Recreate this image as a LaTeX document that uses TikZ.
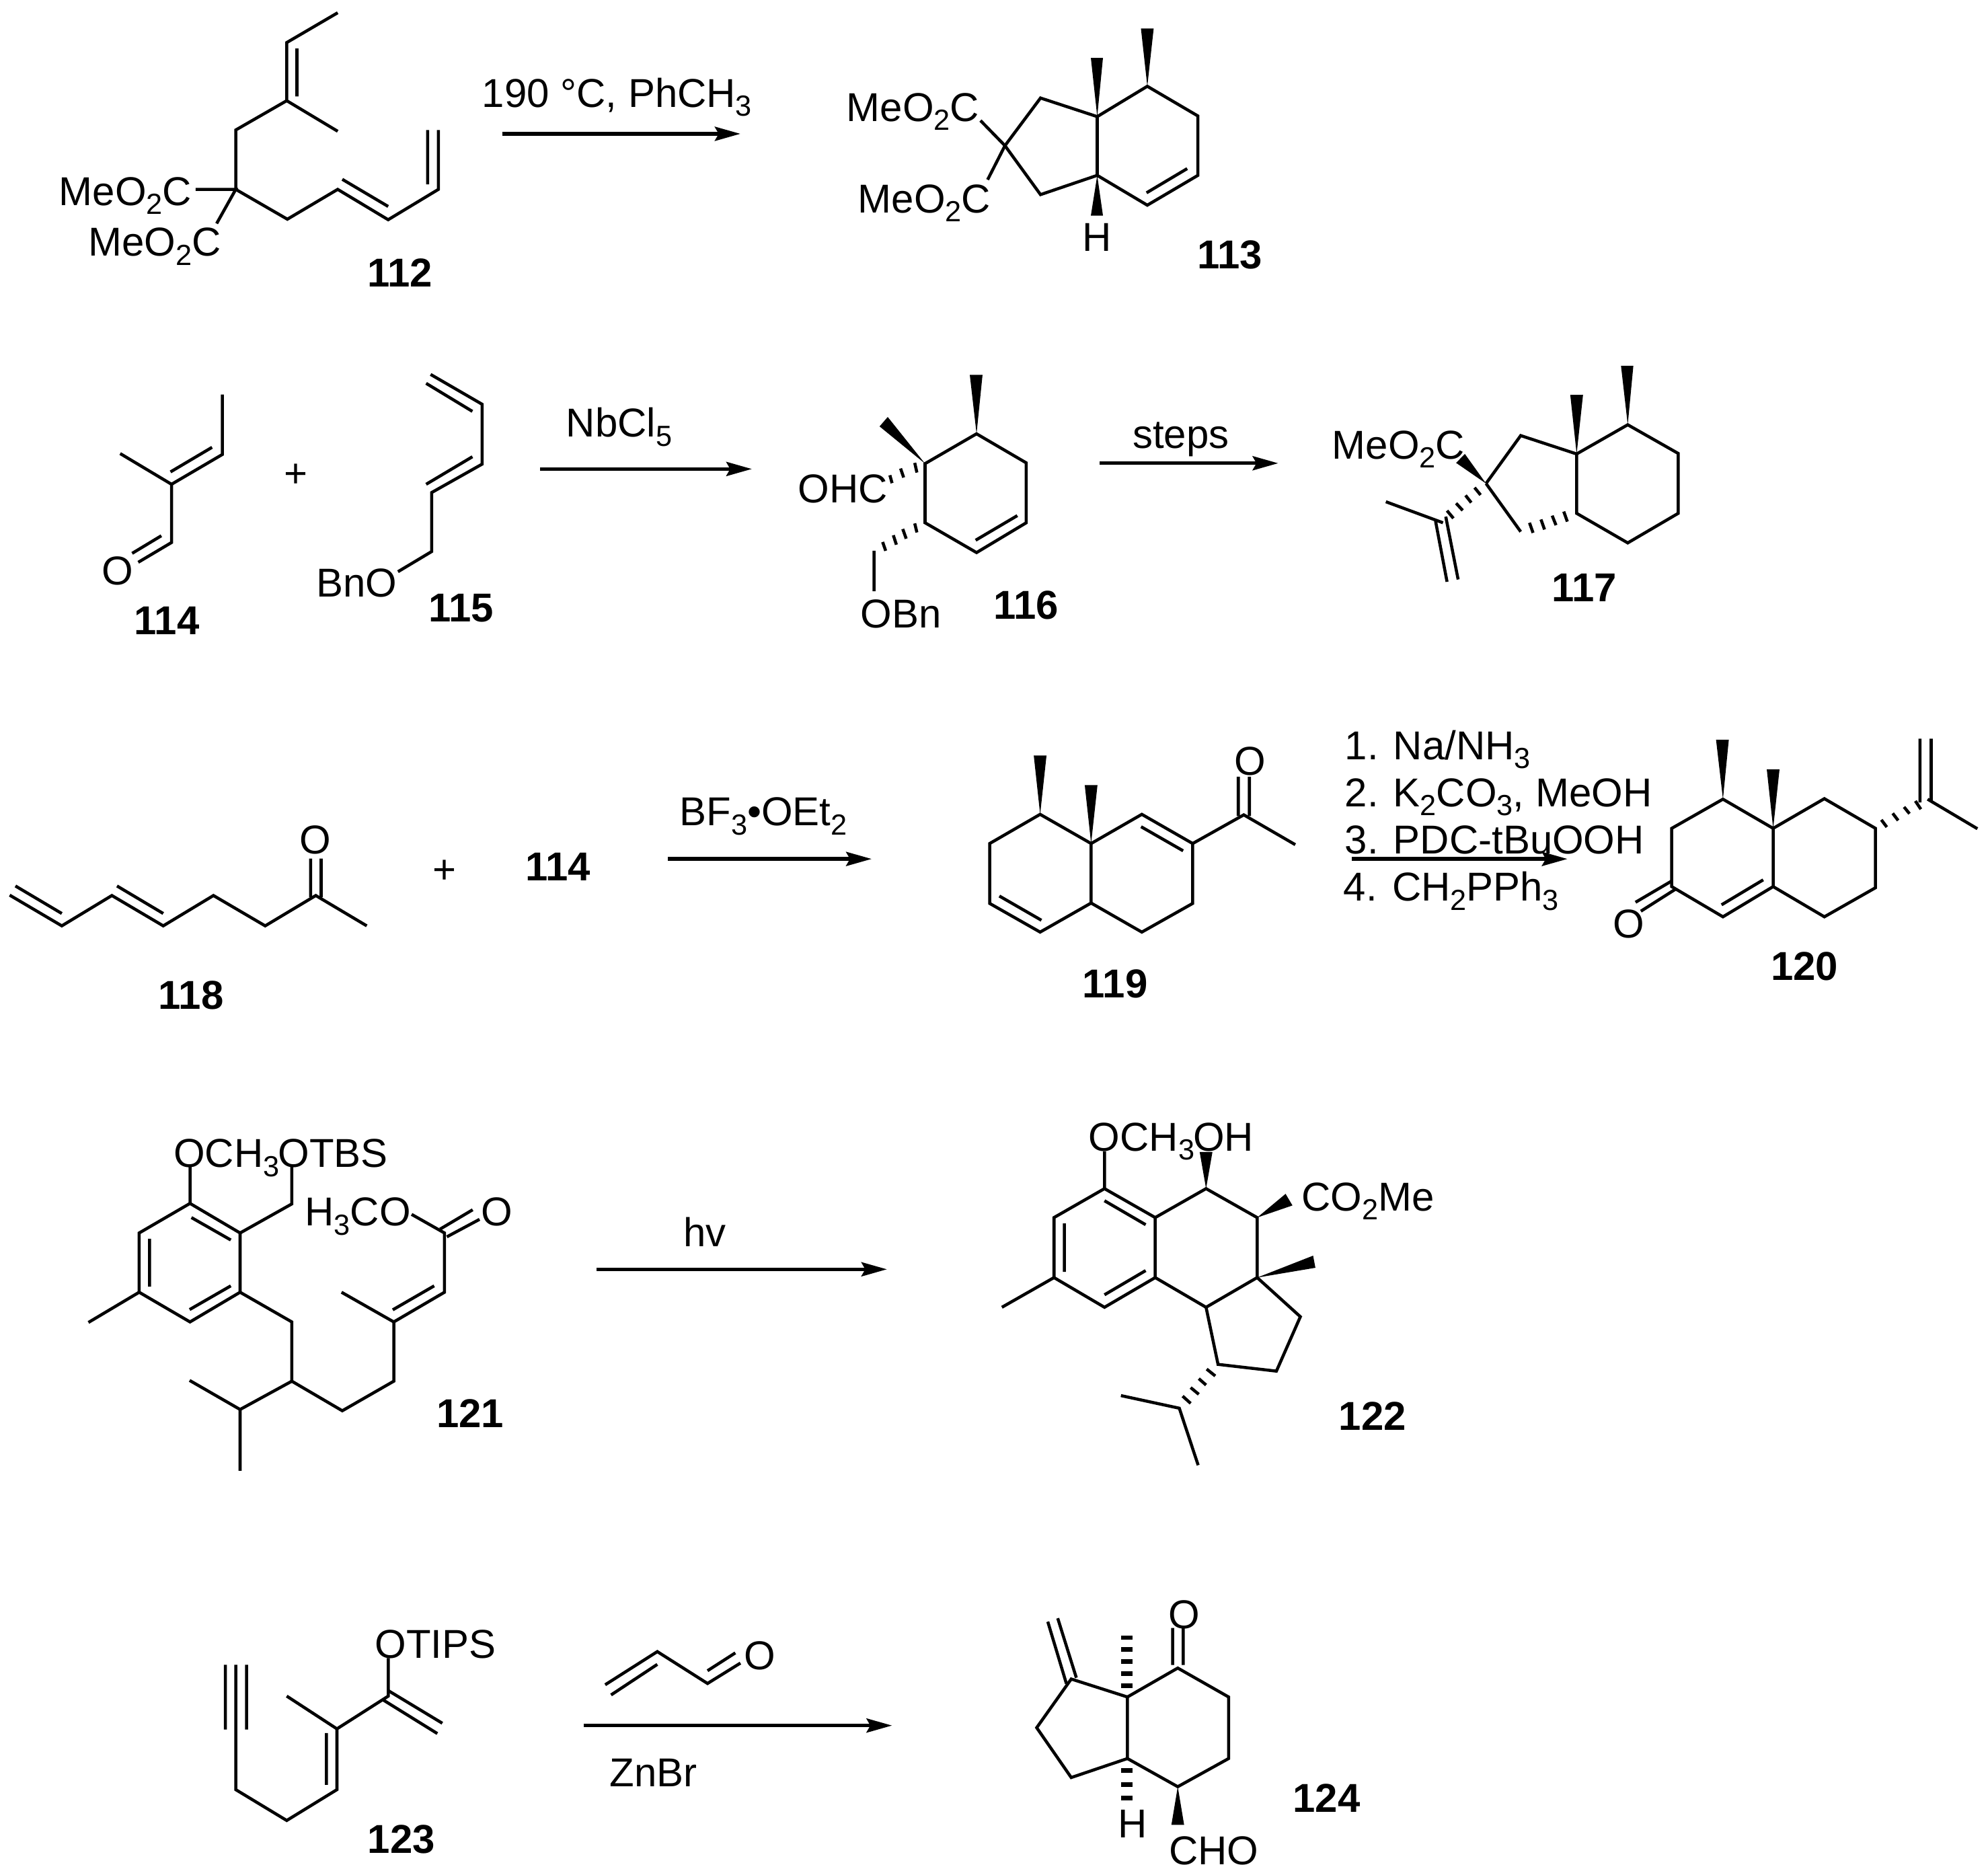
\documentclass[tikz,border=0pt]{standalone}
\usepackage{fontspec}
\setmainfont{Liberation Sans}
\usetikzlibrary{arrows.meta}
\newcommand\sbs[1]{\raisebox{-4pt}{\fontsize{13}{13}\selectfont #1}}
\tikzset{
  bond/.style={line width=1.36pt,line join=miter,line cap=butt,black},
  hashb/.style={line width=1.36pt,line cap=butt,black},
  barb/.style={line width=2pt,line cap=butt,black},
  wedgeb/.style={fill=black,draw=none},
  rxn/.style={line width=1.6pt,black,-{Stealth[length=0.4cm,width=0.22cm,inset=0.06cm]}},
  txt/.style={anchor=base west,inner sep=0pt,font=\fontsize{18}{18}\selectfont},
  ctxt/.style={anchor=base,inner sep=0pt,font=\fontsize{18}{18}\selectfont},
  lbl/.style={anchor=base,inner sep=0pt,font=\fontsize{18}{18}\selectfont\bfseries}
}
\begin{document}
\begin{tikzpicture}[x=0.02cm,y=-0.02cm]
\useasboundingbox (0,0) rectangle (1560,1466.5);
% ---------- 112
\draw[bond] (265,10)--(225,33.4)--(225,79)--(265,103) (225,79)--(185,102)--(185,148.6)--(225.5,172)--(265,148.6)--(304.6,172.4)--(344,148.6)--(344,102);
\draw[bond] (233,38)--(233,75.6) (335.6,102)--(335.6,144.6) (268.6,140.7)--(304.6,162) (153.5,148.6)--(185,148.6)--(170,175.4);
\node[txt] (t112a) at (46,161) {MeO\sbs{2}C};
\node[txt] (t112b) at (69,201) {MeO\sbs{2}C};
\node[lbl] (n112) at (314,225) {112};
% reaction 1
\node[txt] (r1t) at (378,84) {190 °C, PhCH\sbs{3}};
\coordinate (r1s) at (394,105); \coordinate (r1e) at (581,105);
\draw[rxn] (r1s)--(r1e);
% ---------- 113
\draw[bond] (788.6,114.3)--(816.5,76.9)--(861,91.5)--(861,137.6)--(816.5,152.7)--cycle;
\draw[bond] (861,91.5)--(900.3,67.7)--(940,91)--(940,137.6)--(900.3,161)--(861,137.6);
\draw[bond] (899.7,151.3)--(931.6,132.3) (769.4,94.6)--(788.6,114.3)--(775,141);
\fill[wedgeb] (861,91.5)--(856,45.4)--(865.5,45.4)--cycle;
\fill[wedgeb] (900.3,67.7)--(895.3,22.3)--(905.3,22.3)--cycle;
\fill[wedgeb] (861,137.6)--(856,169.2)--(865.5,169.2)--cycle;
\node[txt] (t113a) at (664,95) {MeO\sbs{2}C};
\node[txt] (t113b) at (673,167) {MeO\sbs{2}C};
\node[ctxt] (t113h) at (860.6,197) {H};
\node[lbl] (n113) at (965,211) {113};
% ---------- 114
\draw[bond] (174.5,309.6)--(174.5,356.6)--(134.6,380)--(94.3,355.9) (134.6,380)--(134.6,425.7)--(108.5,441.2);
\draw[bond] (166.4,351)--(133.8,370.3) (126.6,420.4)--(103.7,434.2);
\node[ctxt] (t114o) at (92.4,459) {O};
\node[lbl] (n114) at (131,498) {114};
\node[ctxt] (plus1) at (232.4,382.6) {+};
% ---------- 115
\draw[bond] (337.9,293.8)--(378.3,317.2)--(378.3,364.2)--(338.7,386.5)--(338.7,432.8)--(312.3,448.6);
\draw[bond] (334.4,300.8)--(370.7,322.8) (370.7,358.4)--(334.4,380);
\node[txt] (t115) at (248,468.5) {BnO};
\node[lbl] (n115) at (362,488) {115};
% reaction 2
\node[txt] (r2t) at (444,343) {NbCl\sbs{5}};
\coordinate (r2s) at (424,368); \coordinate (r2e) at (590,368);
\draw[rxn] (r2s)--(r2e);
% ---------- 116
\draw[bond] (725.9,363.8)--(766.3,340.4)--(805.3,363.2)--(805.3,410.2)--(766.3,433.6)--(725.9,410.2)--cycle;
\draw[bond] (765.6,423.9)--(798.3,404.6) (685.9,432.2)--(685.9,464);
\fill[wedgeb] (766.3,340.4)--(761,294.1)--(771,294.1)--cycle;
\fill[wedgeb] (725.9,363.8)--(696.6,327.2)--(690.2,334.6)--cycle;
\draw[hashb] (717.8,363.2)--(719.5,370.8) (706.7,367.6)--(709.1,374.7) (698.3,372.9)--(700,379.1);
\draw[hashb] (717.8,410.7)--(719.5,417.8) (708.4,415.1)--(711.1,422.7) (701,420)--(703.4,427.4) (692.6,425.3)--(695,432.2);
\node[txt] (t116a) at (626,394.5) {OHC};
\node[txt] (t116b) at (675,492.5) {OBn};
\node[lbl] (n116) at (805,486) {116};
% reaction 3
\node[txt] (r3t) at (888.5,351.5) {steps};
\coordinate (r3s) at (863,363.5); \coordinate (r3e) at (1003,363.5);
\draw[rxn] (r3s)--(r3e);
% ---------- 117
\draw[bond] (1237.2,356.2)--(1277.3,333.3)--(1316.9,355.8)--(1316.9,402.8)--(1277.3,426)--(1237.2,402.8)--cycle;
\draw[bond] (1166.1,379.4)--(1193.3,341.8)--(1237.2,356.2) (1166.1,379.4)--(1193.3,417.2);
\draw[bond] (1087.5,393.7)--(1132.3,410.2) (1126.5,409)--(1135.5,456.5) (1134.5,405.4)--(1144.2,454.7);
\fill[wedgeb] (1237.2,356.2)--(1232.2,309.9)--(1242.2,309.9)--cycle;
\fill[wedgeb] (1277.3,333.3)--(1272,287)--(1281.7,287)--cycle;
\fill[wedgeb] (1166.1,379.4)--(1149.5,356.2)--(1142.6,363.2)--cycle;
\draw[hashb] (1157.1,382.6)--(1161.8,388.4) (1150,388.7)--(1154.5,394.4) (1142.6,394.9)--(1147.8,400.5) (1135.5,400.7)--(1140.5,406.7);
\draw[hashb] (1227.1,401.4)--(1229.9,409.3) (1218,404.6)--(1221,412.1) (1209.2,407.6)--(1212,415.5) (1200.2,410.2)--(1203,418.1);
\node[txt] (t117) at (1045,360) {MeO\sbs{2}C};
\node[lbl] (n117) at (1243,472) {117};
% ---------- 118
\draw[bond] (7.6,702.4)--(48.5,726.5)--(87.8,702.7)--(128.1,726.5)--(167.5,702.7)--(208.1,726.5)--(247.8,702.7)--(287.8,726.5);
\draw[bond] (12.1,695.2)--(48.5,716.8) (91.8,695.2)--(128.1,716.8) (243.8,673.7)--(243.8,704) (252,673.7)--(252,704);
\node[ctxt] (t118o) at (247.5,670) {O};
\node[ctxt] (plus2) at (349,693) {+};
\node[lbl] (n114b) at (438,691) {114};
\node[lbl] (n118) at (150,792) {118};
% reaction 4
\node[txt] (r4t) at (533,648) {BF\sbs{3}•OEt\sbs{2}};
\coordinate (r4s) at (524,674); \coordinate (r4e) at (684,674);
\draw[rxn] (r4s)--(r4e);
% ---------- 119
\draw[bond] (816.2,639)--(776.6,661.9)--(776.6,708.9)--(816.2,731.4)--(856.2,708.6)--(856.2,661.9)--cycle;
\draw[bond] (856.2,661.9)--(896,639)--(935.9,661.9)--(935.9,708.9)--(896,731.4)--(856.2,708.6);
\draw[bond] (935.9,661.9)--(976,639.4)--(1016.4,662.8);
\draw[bond] (895.4,648.7)--(928.4,667.6) (784.2,703.1)--(817.2,722.1) (971.7,609.5)--(971.7,640.3) (980.4,609.5)--(980.4,640.3);
\fill[wedgeb] (816.2,639)--(811.2,592.8)--(821.2,592.8)--cycle;
\fill[wedgeb] (856.2,661.9)--(851.2,616)--(861.2,616)--cycle;
\node[ctxt] (t119o) at (981,608) {O};
\node[lbl] (n119) at (875,783) {119};
% reaction 5
\node[txt] (r5a) at (1055,596) {1. Na/NH\sbs{3}};
\node[txt] (r5b) at (1055,633) {2. K\sbs{2}CO\sbs{3}, MeOH};
\node[txt] (r5c) at (1055,670) {3. PDC-tBuOOH};
\node[txt] (r5d) at (1054,707) {4. CH\sbs{2}PPh\sbs{3}};
\coordinate (r5s) at (1061,674); \coordinate (r5e) at (1230,674);
\draw[rxn] (r5s)--(r5e);
% ---------- 120
\draw[bond] (1352,627.1)--(1311.8,650)--(1311.8,695.7)--(1352,719.4)--(1391.4,695.7)--(1391.4,650)--cycle;
\draw[bond] (1391.4,650)--(1431.6,626.7)--(1471.7,650)--(1471.7,696.6)--(1431.6,719.4)--(1391.4,695.7);
\draw[bond] (1350.9,710)--(1383.6,690.4) (1311.8,691.3)--(1283.4,708) (1315.3,697.4)--(1287.6,715);
\draw[bond] (1512.6,627.1)--(1551.7,650.3) (1506.6,579.6)--(1506.6,629.7) (1515.4,579.6)--(1515.4,628);
\fill[wedgeb] (1352,627.1)--(1346.6,580.5)--(1356.6,580.5)--cycle;
\fill[wedgeb] (1391.4,650)--(1386.4,603.7)--(1396.4,603.7)--cycle;
\draw[hashb] (1476.3,643.3)--(1480.6,649) (1485.2,638.2)--(1489.5,643.8) (1494.1,633.2)--(1498.4,638.5) (1503,628.5)--(1507.3,635);
\node[ctxt] (t120o) at (1278,736) {O};
\node[lbl] (n120) at (1416,769) {120};
% ---------- 121
\draw[bond] (149.1,944.3)--(188.4,967.5)--(188.4,1014)--(149.1,1037.3)--(109.2,1014)--(109.2,967.5)--cycle;
\draw[bond] (149.1,915.5)--(149.1,944.3) (150.2,955.4)--(181.1,973) (117.3,972)--(117.3,1009.6) (181.1,1009)--(148.8,1027.6) (109.2,1014)--(69.4,1037.7);
\draw[bond] (188.4,967.5)--(229,944.7)--(229,915.5);
\draw[bond] (188.4,1014)--(229,1037.3)--(229,1083.8)--(268.6,1107)--(309,1083.8)--(309,1037.3)--(348.8,1014)--(348.8,967.5)--(323,952.9);
\draw[bond] (268,1014)--(309,1037.3) (340.7,1009)--(308.2,1027.8) (345.3,964.5)--(370.9,949.3) (350.7,970.5)--(376.3,956.8);
\draw[bond] (229,1083.8)--(188.4,1106)--(148.8,1083.2) (188.4,1106)--(188.4,1154.1);
\node[txt] (t121a) at (136,916) {OCH\sbs{3}};
\node[txt] (t121b) at (218,916) {OTBS};
\node[txt] (t121c) at (239,962) {H\sbs{3}CO};
\node[ctxt] (t121o) at (390,962) {O};
\node[lbl] (n121) at (369,1120) {121};
% reaction 6
\node[txt] (r6t) at (536,978) {hv};
\coordinate (r6s) at (468,996); \coordinate (r6e) at (696,996);
\draw[rxn] (r6s)--(r6e);
% ---------- 122
\draw[bond] (866.7,932.7)--(906.5,955.4)--(906.5,1002.5)--(866.7,1025.8)--(827.1,1002.5)--(827.1,955.4)--cycle;
\draw[bond] (866.7,903.4)--(866.7,932.7) (866.7,942.2)--(899,961) (835.2,960)--(835.2,998) (899,997)--(866.7,1016) (827.1,1002.5)--(786.2,1025.8);
\draw[bond] (906.5,955.4)--(946.4,932.7)--(986.5,955.4)--(986.5,1002.5)--(946.4,1025.8)--(906.5,1002.5);
\draw[bond] (986.5,1002.5)--(1020.4,1033.2)--(1001.6,1075.9)--(955.8,1070.6)--(946.4,1025.8);
\draw[bond] (879.6,1095.1)--(925.4,1105)--(940.2,1149.7);
\fill[wedgeb] (946.4,932.7)--(941.4,904)--(951.4,904)--cycle;
\fill[wedgeb] (986.5,955.4)--(1008.8,936.8)--(1014.2,945.9)--cycle;
\fill[wedgeb] (986.5,1002.5)--(1030.4,985.3)--(1032.2,994.8)--cycle;
\draw[hashb] (946.9,1074.3)--(953.6,1079.7) (940.7,1081.8)--(946.4,1086.8) (934.3,1088.8)--(940.7,1094.1) (928,1095.5)--(934.3,1101.2);
\node[txt] (t122a) at (854,903) {OCH\sbs{3}};
\node[txt] (t122b) at (936,903) {OH};
\node[txt] (t122c) at (1021,950) {CO\sbs{2}Me};
\node[lbl] (n122) at (1077,1122) {122};
% ---------- 123
\draw[bond] (185,1306.3)--(185,1404.3)--(225,1428.5)--(264.4,1404.3)--(264.4,1356.6)--(225,1330.9) (264.4,1356.6)--(304.7,1330.9)--(304.7,1301.1);
\draw[bond] (176.9,1306.3)--(176.9,1357.2) (193.5,1306.3)--(193.5,1357.2) (256.2,1359.9)--(256.2,1400.6) (304.7,1326.6)--(347.1,1352.2) (300.8,1334)--(343.2,1360.3);
\node[txt] (t123) at (294,1301) {OTIPS};
\node[lbl] (n123) at (315,1454) {123};
% reaction 7
\draw[bond] (474.9,1322)--(515.8,1296)--(555.2,1321)--(581,1305) (479.5,1330)--(515.8,1306) (555.2,1311)--(577,1297);
\node[ctxt] (r7o) at (596,1310) {O};
\node[txt] (r7t) at (478,1402) {ZnBr};
\coordinate (r7s) at (458,1354); \coordinate (r7e) at (700,1354);
\draw[rxn] (r7s)--(r7e);
% ---------- 124
\draw[bond] (884.7,1331.6)--(924.2,1308.9)--(964.1,1331.6)--(964.1,1379.9)--(924.2,1402)--(884.7,1379.9)--cycle;
\draw[bond] (884.7,1331.6)--(840.6,1317.5)--(813.5,1355.7)--(840.6,1394.8)--(884.7,1379.9);
\draw[bond] (836.8,1321.1)--(822.2,1272.5) (844.6,1316.5)--(830,1269.8) (920.2,1306.5)--(920.2,1277.4) (928.5,1306.5)--(928.5,1277.4);
\fill[wedgeb] (924.2,1402)--(919.2,1432)--(929.2,1432)--cycle;
\draw[barb] (880,1322.9)--(888.7,1322.9) (880,1313.3)--(888.7,1313.3) (880,1303.6)--(888.7,1303.6) (880,1294.2)--(888.7,1294.2) (880,1285)--(888.7,1285);
\draw[barb] (880,1389.3)--(888.7,1389.3) (880,1400.3)--(888.7,1400.3) (880,1410.8)--(888.7,1410.8);
\node[ctxt] (t124o) at (929,1278) {O};
\node[ctxt] (t124h) at (889,1442) {H};
\node[txt] (t124c) at (917,1463) {CHO};
\node[lbl] (n124) at (1041,1422) {124};
\end{tikzpicture}
\end{document}
